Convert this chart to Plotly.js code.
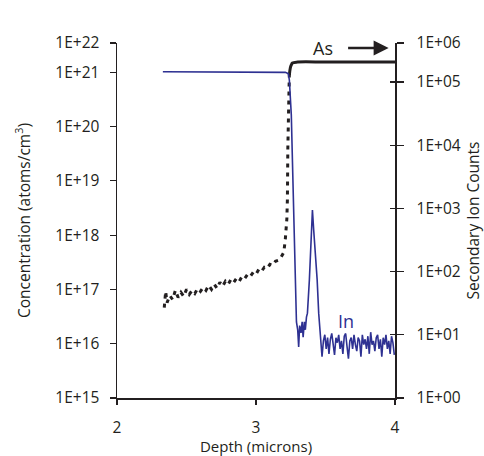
<!DOCTYPE html>
<html>
<head>
<meta charset="utf-8">
<script src="https://cdn.plot.ly/plotly-3.0.1.min.js"></script>
<style>html,body{margin:0;padding:0;background:#fff;}#chart{width:484px;height:456px;}</style>
</head>
<body>
<div id="chart"></div>
<script>
// Black dotted concentration profile (left axis, atoms/cm3)
var concDepth = [2.34,2.35,2.36,2.38,2.40,2.42,2.44,2.46,2.48,2.50,2.52,2.54,2.56,2.58,2.60,2.62,2.64,2.66,2.68,2.70,2.72,2.74,2.76,2.78,2.80,2.82,2.84,2.86,2.88,2.90,2.92,2.94,2.96,2.98,3.00,3.02,3.04,3.06,3.08,3.10,3.12,3.14,3.16,3.18,3.20,3.211,3.222,3.226,3.229,3.233,3.236,3.240];
var concValues = [4.64e16,9.2e16,5.7e16,7.7e16,6.5e16,9.6e16,7.1e16,8.8e16,7.4e16,1.0e17,8.1e16,9.6e16,8.4e16,1.04e17,9.2e16,1.09e17,9.6e16,1.19e17,1.0e17,1.24e17,1.04e17,1.35e17,1.14e17,1.41e17,1.24e17,1.53e17,1.35e17,1.60e17,1.41e17,1.74e17,1.60e17,1.90e17,1.74e17,2.06e17,1.90e17,2.35e17,2.15e17,2.56e17,2.45e17,2.90e17,2.78e17,3.30e17,3.44e17,3.92e17,4.84e17,8.4e17,2.0e18,4.6e18,3.9e19,3.3e20,6.3e20,9.5e20];

// As counts (right axis)
var asDepth = [3.240,3.247,3.254,3.262,3.30,3.50,3.70,3.90,4.00];
var asCounts = [1.29e5,1.67e5,1.86e5,2.0e5,2.07e5,2.07e5,2.07e5,2.07e5,2.07e5];

// In counts (right axis)
var inDepth = [2.33,2.60,2.90,3.10,3.20,3.211,3.226,3.233,3.240,3.247,3.254,3.262,3.269,3.276,3.283,3.287,3.291,3.300,3.307,3.314,3.324,3.332,3.339,3.348,3.355,3.363,3.370,3.384,3.395,3.406,3.415,3.424,3.440,3.451,3.464,
  3.475,3.485,3.495,3.505,3.515,3.525,3.535,3.545,3.555,3.565,3.575,3.585,3.595,3.605,3.615,3.625,3.635,3.645,3.655,3.665,3.675,3.685,3.695,3.705,3.715,3.725,3.735,3.745,3.755,3.765,3.775,3.785,3.795,3.805,3.815,3.825,3.835,3.845,3.855,3.865,3.875,3.885,3.895,3.905,3.915,3.925,3.935,3.945,3.955,3.965,3.975,3.985,3.995];
var inCounts = [1.45e5,1.44e5,1.45e5,1.44e5,1.43e5,1.42e5,1.38e5,1.34e5,1.07e5,6.2e4,3.0e4,5.8e3,1.13e3,264,88,35.5,16,12,6.4,14,10.7,16,9.2,16,12,19,22,74,316,944,455,265,74,22,9.5,
  4.5,8,10,6,9,5,8.5,10.5,7,4.8,9,7.5,10,6,8,5,9.5,10.5,6.5,4.2,8,9,6,10,7,5.5,9,8,4.5,10,7,8.5,6,9.5,5,11,7,8,5.5,9,10,6,8.5,4.5,9,7,10,6,8,5,9.5,7.5,4.8];

// Tick labels
var xTicks = [2,3,4];
var xTickText = ['2','3','4'];
var leftTickVals = [1e15,1e16,1e17,1e18,1e19,1e20,1e21,Math.pow(10,21.538)];
var leftTickText = ['1E+15','1E+16','1E+17','1E+18','1E+19','1E+20','1E+21','1E+22'];
var rightTickVals = [1,10,100,1e3,1e4,1e5,Math.pow(10,5.617)];
var rightTickText = ['1E+00','1E+01','1E+02','1E+03','1E+04','1E+05','1E+06'];

var ink = '#231f20';
var blue = '#2e3192';
var fontFam = '"Open Sans", "Noto Sans", sans-serif';

var traces = [
  {x: concDepth, y: concValues, yaxis: 'y', mode: 'lines', line: {color: ink, width: 3, dash: '4px,5px'}, hoverinfo: 'skip'},
  {x: asDepth, y: asCounts, yaxis: 'y2', mode: 'lines', line: {color: ink, width: 3, shape: 'spline'}, hoverinfo: 'skip'},
  {x: inDepth, y: inCounts, yaxis: 'y2', mode: 'lines', line: {color: blue, width: 1.6}, hoverinfo: 'skip'},
  {x: [2,4], y: [1,1], yaxis: 'y3', mode: 'lines', line: {width: 0}, hoverinfo: 'skip'}
];

var layout = {
  width: 484, height: 456,
  margin: {l: 117, r: 89, t: 43, b: 58},
  paper_bgcolor: '#fff', plot_bgcolor: '#fff',
  showlegend: false,
  font: {family: fontFam, size: 15, color: ink},
  xaxis: {
    range: [2,4], tickvals: xTicks, ticktext: xTickText,
    showgrid: false, zeroline: false, showline: true, linecolor: ink, linewidth: 1.5,
    ticks: 'outside', ticklen: 5, tickcolor: ink, tickwidth: 1.2,
    ticklabelstandoff: 10,
    tickfont: {size: 15.5, color: ink},
    title: {text: 'Depth (microns)', font: {size: 15, color: ink}, standoff: 5}
  },
  yaxis: {
    type: 'log', range: [15, 21.538],
    tickvals: leftTickVals, ticktext: leftTickText,
    showgrid: false, zeroline: false, showline: true, linecolor: ink, linewidth: 1.5,
    ticks: 'outside', ticklen: 6, tickcolor: ink, tickwidth: 1.2,
    ticklabelstandoff: 7,
    tickfont: {size: 15.5, color: ink},
    title: {text: 'Concentration (atoms/cm<sup>3</sup>)', font: {size: 15.5, color: ink}, standoff: 21}
  },
  yaxis2: {
    type: 'log', range: [0, 5.617], overlaying: 'y', side: 'right', anchor: 'x',
    tickvals: rightTickVals, ticktext: rightTickText,
    showgrid: false, zeroline: false, showline: true, linecolor: ink, linewidth: 1.5,
    ticks: 'outside', ticklen: 7, tickcolor: ink, tickwidth: 1.2,
    ticklabelstandoff: 10,
    tickfont: {size: 15.5, color: ink},
    title: {text: 'Secondary Ion Counts', font: {size: 15.5, color: ink}, standoff: 12}
  },
  yaxis3: {
    type: 'log', range: [0, 5.617], overlaying: 'y', side: 'right', anchor: 'x',
    tickvals: rightTickVals, showticklabels: false,
    showgrid: false, zeroline: false, showline: false,
    ticks: 'inside', ticklen: 5, tickcolor: ink, tickwidth: 1.2
  },
  annotations: [
    {x: 3.954, y: 0.986, xref: 'x', yref: 'paper', text: 'As', xanchor: 'center', yanchor: 'middle',
     showarrow: true, ax: -66, ay: 0, arrowhead: 2, arrowsize: 1.2, arrowwidth: 2.5, arrowcolor: ink,
     startstandoff: 14, font: {size: 18, color: ink}},
    {x: 3.644, y: 0.217, xref: 'x', yref: 'paper', text: 'In', xanchor: 'center', yanchor: 'middle',
     showarrow: false, font: {size: 18, color: blue}}
  ]
};

Plotly.newPlot('chart', traces, layout, {staticPlot: true, displayModeBar: false});
</script>
</body>
</html>
